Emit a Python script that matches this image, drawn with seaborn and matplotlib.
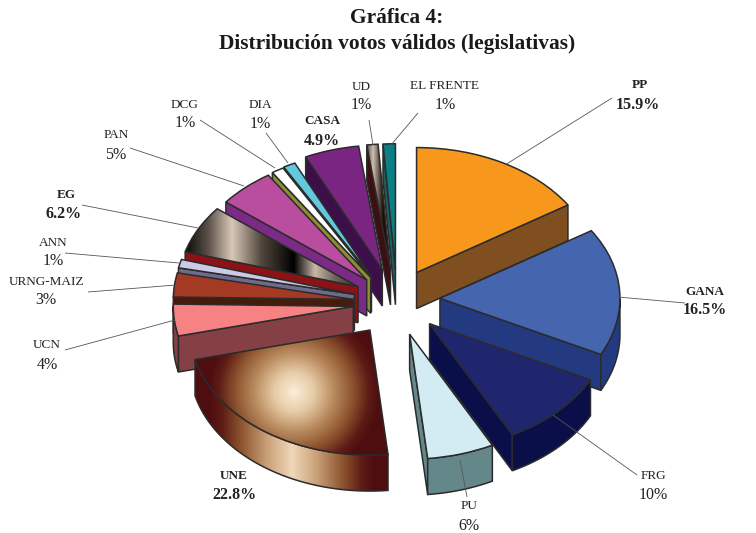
import numpy as np
import matplotlib
matplotlib.use("Agg")
import matplotlib.pyplot as plt
from matplotlib.colors import to_rgb
from matplotlib.patches import Polygon
import seaborn as sns

parties = ["PP", "GANA", "FRG", "PU", "UNE", "UCN", "URNG-MAIZ", "ANN", "EG", "PAN",
           "DCG", "DIA", "CASA", "UD", "EL FRENTE"]
shares = [15.9, 16.5, 10, 6, 22.8, 4.1, 3.1, 1.1, 6.2, 5.1, 1.1, 1.1, 4.9, 1.0, 1.1]
share_labels = ["15.9%", "16.5%", "10%", "6%", "22.8%", "4%", "3%", "1%", "6.2%", "5%",
                "1%", "1%", "4.9%", "1%", "1%"]
bold_parties = ["PP", "GANA", "UNE", "EG", "CASA"]
top_colors = ["#F7981D", "#4565AE", "#20266E", "#D3ECF3", "#8E5630", "#F78284", "#A43A23",
              "#CCCAE6", "#6E645A", "#B94E9E", "#FFFFFF", "#62C8DC", "#7B2582", "#6E645A",
              "#0A8084"]
wall_colors = ["#7F4F1F", "#243A80", "#0A0F4A", "#64888A", "#4E0E10", "#844045", "#451B0C",
               "#6E6C8E", "#8B1215", "#7B2A85", "#8D8D33", "#0F6E78", "#3D0F4A", "#3D0F12",
               "#1F5F60"]
explode = [0.25, 0.25, 0.27, 0.285, 0.27, 0.25, 0.25, 0.25, 0.25, 0.25, 0.25, 0.25, 0.25, 0.25, 0.25]
draw_order = ["EL FRENTE", "UD", "CASA", "DIA", "DCG", "PAN", "EG", "ANN", "URNG-MAIZ", "UCN",
              "UNE", "PP", "GANA", "PU", "FRG"]
# small extra slice displacement in pixels (right, down)
nudge = {"EG": (3, 1), "PAN": (2, 3), "DCG": (-1, 4), "DIA": (-3, 4), "ANN": (3, 2),
         "URNG-MAIZ": (3, 3), "UCN": (3, 3), "UNE": (3, 2.5), "EL FRENTE": (2, 0)}

# label anchors (pixel positions in the 756x533 frame): name, share, leader line
label_xy = {
    "PP": (640, 85, 638, 105), "GANA": (705, 292, 705, 310), "FRG": (653, 476, 653, 495),
    "PU": (469, 506, 469, 526), "UNE": (234, 476, 234, 495), "UCN": (47, 345, 47, 365),
    "URNG-MAIZ": (46, 282, 46, 300), "ANN": (53, 243, 53, 261), "EG": (66, 195, 64, 214),
    "PAN": (116, 135, 116, 155), "DCG": (185, 105, 185, 123), "DIA": (260, 105, 260, 124),
    "CASA": (322, 121, 322, 141), "UD": (361, 87, 361, 105), "EL FRENTE": (445, 86, 445, 105),
}
leaders = {
    "PP": (505, 165, 612, 98), "GANA": (618, 297, 685, 303), "FRG": (553, 415, 637, 475),
    "PU": (460, 460, 467, 497), "UCN": (175, 320, 65, 350), "URNG-MAIZ": (176, 285, 88, 292),
    "ANN": (179, 263, 65, 253), "EG": (198, 228, 82, 205), "PAN": (244, 186, 130, 148),
    "DCG": (275, 168, 200, 120), "DIA": (288, 163, 266, 133), "UD": (373, 145, 369, 120),
    "EL FRENTE": (391, 145, 418, 113),
}

W, H = 756, 533
CX, CY, RX, RY = 395, 300, 180, 125
DEPTH = 36 / RY
EDGE = "#2B2B2B"

sns.set_theme(style="white")
plt.rcParams["font.family"] = ["Liberation Serif", "DejaVu Serif"]
palette = sns.color_palette(top_colors)

fig = plt.figure(figsize=(W / 100, H / 100), dpi=100, facecolor="white")
ax = fig.add_axes([0, 0, 1, 1])
wedges, _ = ax.pie(shares, explode=explode, colors=palette, startangle=90, counterclock=False,
                   radius=1, normalize=True,
                   wedgeprops=dict(edgecolor=EDGE, linewidth=1.1, joinstyle="miter"))
ax.set_aspect("auto")
xlim = ((0 - CX) / RX, (W - CX) / RX)
ylim = ((CY - H) / RY, CY / RY)
extent = (xlim[0], xlim[1], ylim[0], ylim[1])


def rgb(stops, t):
    pos = [s[0] for s in stops]
    cols = np.array([to_rgb(s[1]) for s in stops])
    return np.dstack([np.interp(t, pos, cols[:, i]) for i in range(3)])


xs, ys = np.meshgrid(np.arange(W) + 0.5, np.arange(H) + 0.5)
une_stops = [(0, "#FBF0DC"), (20, "#E6CBA6"), (40, "#B98A5E"), (58, "#8E5630"), (75, "#5E1C16"), (85, "#4E0E10")]
une_top = rgb(une_stops, np.hypot(xs - 294, ys - 392))
une_wall = rgb([(0, "#F0D8B8"), (25, "#C9A078"), (50, "#8E5630"), (70, "#5E1C16"), (82, "#4E0E10")], np.abs(xs - 292))
eg_top = rgb([(185, "#0A0805"), (208, "#5A5048"), (232, "#D8C8B8"), (262, "#50463C"), (294, "#000000"),
              (315, "#C8B8A8"), (335, "#6E645A"), (355, "#3A3228")], xs)
ud_top = rgb([(364, "#1A0F0A"), (373, "#D0C0B0"), (383, "#1A1008"), (386, "#1A1008")], xs)
images = {"UNE": une_top, "EG": eg_top, "UD": ud_top}
wall_images = {"UNE": une_wall}


def add_wall(points, color, z, image=None):
    pts = np.asarray(points)
    low = pts - [0, DEPTH]
    poly = np.vstack([pts, low[::-1]])
    patch = Polygon(poly, closed=True, facecolor=color if image is None else "none",
                    edgecolor=EDGE, linewidth=1.1, zorder=z + 0.1, joinstyle="miter")
    ax.add_patch(patch)
    if image is not None:
        im = ax.imshow(image, extent=extent, aspect="auto", origin="upper", zorder=z, interpolation="bilinear")
        im.set_clip_path(patch)


for rank, name in enumerate(draw_order):
    i = parties.index(name)
    w = wedges[i]
    z = 10 + rank * 2
    ndx, ndy = nudge.get(name, (0, 0))
    c = np.array(w.center) + [ndx / RX, -ndy / RY]
    w.set_center(tuple(c))
    t1, t2 = w.theta1, w.theta2
    th = np.radians(np.linspace(t1, t2, 160))
    arc = c + w.r * np.column_stack([np.cos(th), np.sin(th)])
    wall_img = wall_images.get(name)
    if np.sin(np.radians(t1 - 90)) < 0:
        add_wall([c, arc[0]], wall_colors[i], z, None if name == "UNE" else wall_img)
    if np.sin(np.radians(t2 + 90)) < 0:
        add_wall([c, arc[-1]], wall_colors[i], z, None if name == "UNE" else wall_img)
    low = np.sin(th) < 0
    if low.any():
        add_wall(arc[low], wall_colors[i], z + 0.3, wall_img)
    w.set_zorder(z + 1)
    if name in images:
        im = ax.imshow(images[name], extent=extent, aspect="auto", origin="upper", zorder=z + 0.9,
                       interpolation="bilinear")
        im.set_clip_path(w)
        w.set_facecolor("none")

ax.set_xlim(xlim)
ax.set_ylim(ylim)
ax.axis("off")

ov = fig.add_axes([0, 0, 1, 1], facecolor="none")
ov.set_xlim(0, W)
ov.set_ylim(H, 0)
ov.axis("off")

for name, (x0, y0, x1, y1) in leaders.items():
    ov.plot([x0, x1], [y0, y1], color="#555555", lw=0.6, solid_capstyle="butt")

for name, pct in zip(parties, share_labels):
    nx, ny, sx, sy = label_xy[name]
    bold = name in bold_parties
    ov.text(nx, ny, name, ha="center", va="center", color="#222222",
            fontsize=9.5, fontweight="bold" if bold else "normal")
    ov.text(sx, sy, pct, ha="center", va="center", color="#222222",
            fontsize=11.5, fontweight="bold" if bold else "normal")

ov.text(397, 18, "Gráfica 4:", ha="center", va="center", fontsize=15.4, fontweight="bold", color="#1A1A1A")
ov.text(397, 44, "Distribución votos válidos (legislativas)", ha="center", va="center",
        fontsize=15.4, fontweight="bold", color="#1A1A1A")

fig.savefig("out.png", dpi=100, facecolor="white")
